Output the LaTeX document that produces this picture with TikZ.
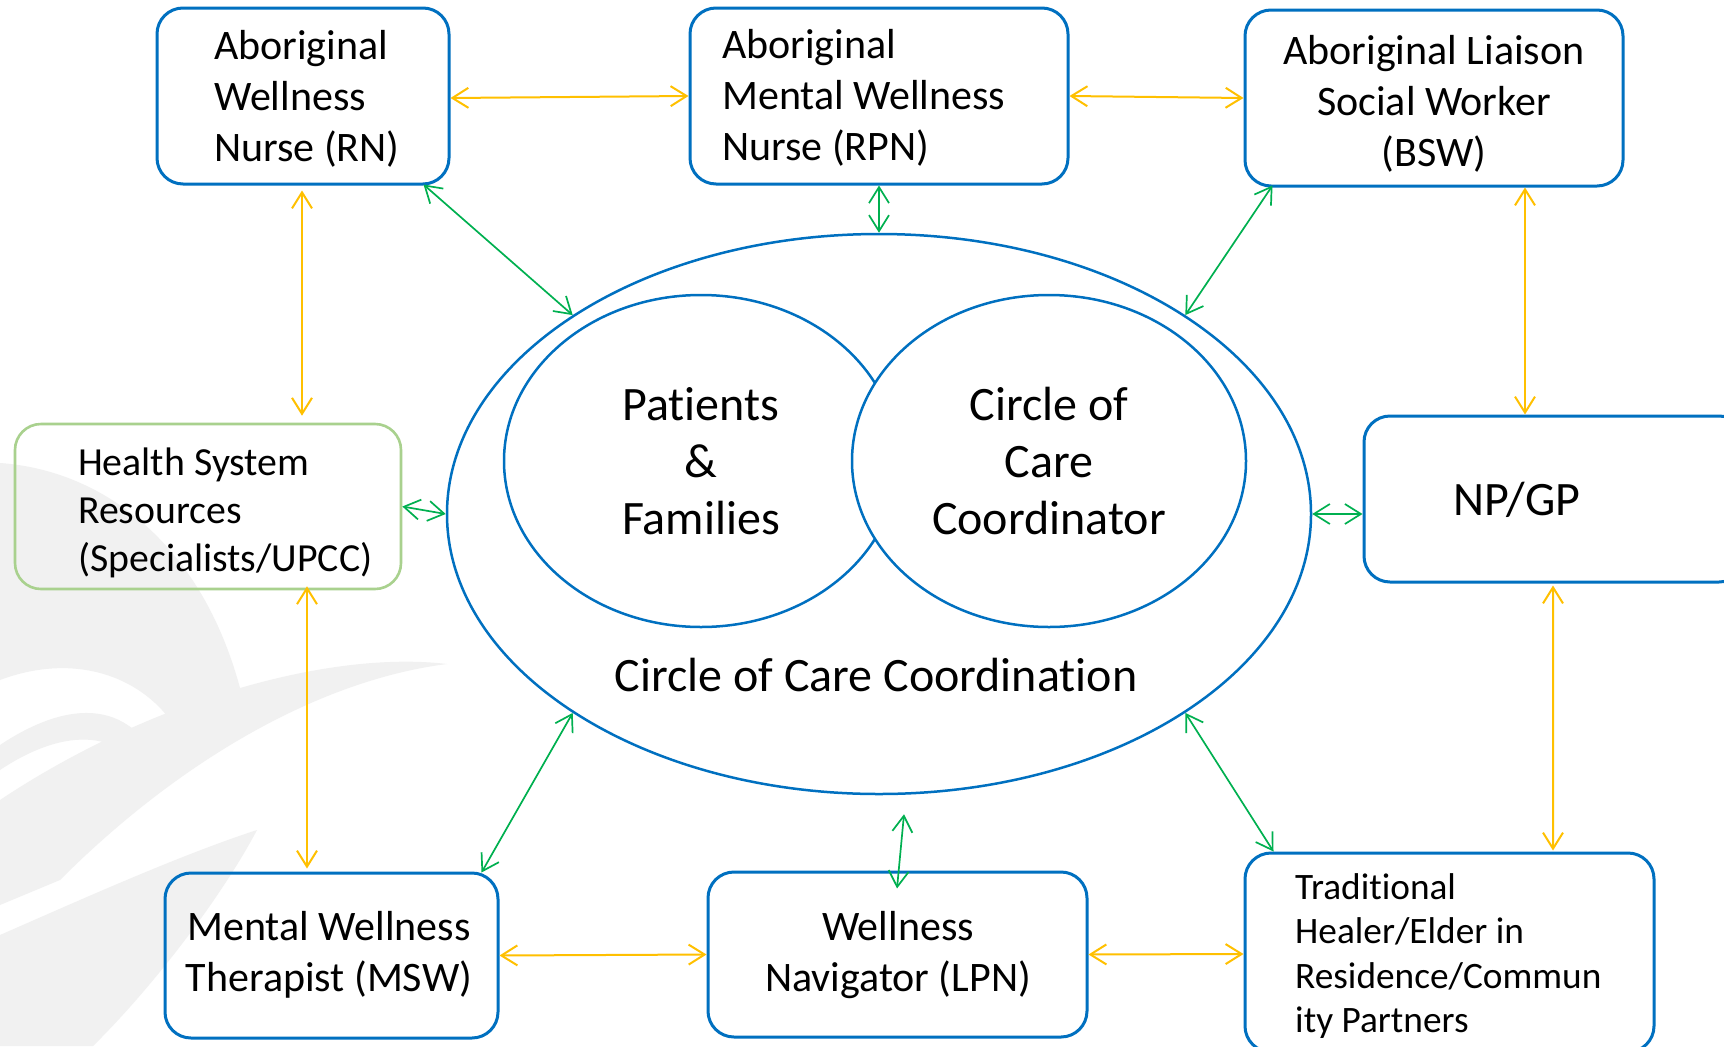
\documentclass[tikz,border=0pt]{standalone}
\usepackage{fontspec}
\setmainfont{Carlito}[Ligatures=NoCommon]
\usetikzlibrary{arrows.meta,shapes.geometric,calc}
\definecolor{boxblue}{HTML}{0070C0}
\definecolor{boxgreen}{HTML}{A9D18E}
\definecolor{arrowyellow}{HTML}{FFC000}
\definecolor{arrowgreen}{HTML}{00B050}
\definecolor{markgray}{HTML}{F1F1F1}
\newcommand\fntbox{\fontsize{42bp}{51bp}\selectfont}
\newcommand\fnthsr{\fontsize{39.8bp}{48bp}\selectfont}
\newcommand\fnttrad{\fontsize{37.3bp}{44.6bp}\selectfont}
\newcommand\fntbig{\fontsize{48bp}{57.3bp}\selectfont}
\begin{document}
\begin{tikzpicture}[x=1bp,y=-1bp,
  rbox/.style={draw=boxblue, line width=3bp, rounded corners=26bp, inner sep=0pt},
  gbox/.style={draw=boxgreen, line width=2.6bp, rounded corners=26bp, inner sep=0pt},
  oval/.style={ellipse, draw=boxblue, line width=2.5bp, inner sep=0pt, fill=white},
  txt/.style={inner sep=0pt, text=black},
  barb/.tip={Straight Barb[length=16bp,width=20bp]},
  ylink/.style={draw=arrowyellow, line width=2bp, barb-barb},
  glink/.style={draw=arrowgreen, line width=1.7bp, barb-barb}]
\clip (0,0) rectangle (1724,1046);
\fill[white] (0,0) rectangle (1724,1046);
% faint watermark
\fill[markgray] (0,463) .. controls (100,470) and (200,540) .. (240,688)
  .. controls (215,700) and (195,715) .. (180,735)
  .. controls (150,680) and (80,650) .. (0,680) -- cycle;
\fill[markgray] (0,745) .. controls (60,705) and (130,690) .. (165,775)
  -- (150,782) .. controls (120,725) and (60,730) .. (0,770) -- cycle;
\fill[markgray] (0,800) .. controls (150,700) and (330,650) .. (447,664)
  .. controls (320,680) and (180,760) .. (60,880) -- (0,905) -- cycle;
\fill[markgray] (257,830) .. controls (220,900) and (150,990) .. (93,1046)
  -- (0,1046) -- (0,935) .. controls (80,900) and (180,855) .. (257,830) -- cycle;
% ellipses
\node[oval, minimum width=864bp, minimum height=560bp] (big) at (879,514) {};
\node[oval, minimum width=394bp, minimum height=332bp] (left) at (701,461) {};
\node[oval, minimum width=394bp, minimum height=332bp] (right) at (1049,461) {};
% boxes
\node[rbox, minimum width=292bp, minimum height=176bp] (rn) at (303,96) {};
\node[rbox, minimum width=378bp, minimum height=176bp] (rpn) at (879,96) {};
\node[rbox, minimum width=378bp, minimum height=176bp] (bsw) at (1434,98) {};
\node[gbox, minimum width=386bp, minimum height=165bp] (hsr) at (208,506.5) {};
\node[rbox, minimum width=381bp, minimum height=166bp] (np) at (1554.5,499) {};
\node[rbox, minimum width=333bp, minimum height=165bp] (msw) at (331.5,955.5) {};
\node[rbox, minimum width=379bp, minimum height=165bp] (lpn) at (897.5,954.5) {};
\node[rbox, minimum width=409bp, minimum height=199bp] (trad) at (1449.5,952.5) {};
% texts
\node[txt, anchor=west, align=left, font=\fntbox] (rntext) at (214,99) {Aboriginal\\Wellness\\Nurse (RN)};
\node[txt, anchor=west, align=left, font=\fntbox] (rpntext) at (722,98) {Aboriginal\\Mental Wellness\\Nurse (RPN)};
\node[txt, align=center, font=\fntbox] (bswtext) at (1434,104) {Aboriginal Liaison\\Social Worker\\(BSW)};
\node[txt, anchor=west, align=left, font=\fnthsr] (hsrtext) at (78,513) {Health System\\Resources\\(Specialists/UPCC)};
\node[txt, font=\fntbig] (nptext) at (1517,500) {NP/GP};
\node[txt, align=center, font=\fntbox] (mswtext) at (329,955) {Mental Wellness\\Therapist (MSW)};
\node[txt, align=center, font=\fntbox] (lpntext) at (898,955) {Wellness\\Navigator (LPN)};
\node[txt, anchor=west, align=left, font=\fnttrad] (tradtext) at (1295,956) {Traditional\\Healer/Elder in\\Residence/Commun\\ity Partners};
\node[txt, align=center, font=\fntbig] (pftext) at (701,461) {Patients\\\&\\Families};
\node[txt, align=center, font=\fntbig] (cctext) at (1049,461) {Circle of\\Care\\Coordinator};
\node[txt, font=\fntbig] (cctitle) at (876,675) {Circle of Care Coordination};
% yellow connectors
\draw[ylink] ($(rn.east)+(0,2)$) -- (rpn.west);
\draw[ylink] (rpn.east) -- (bsw.west);
\draw[ylink] ($(rn.south)+(-1,5)$) -- ($(hsr.north)+(94,-7)$);
\draw[ylink] ($(hsr.south)+(99,-4)$) -- ($(msw.north)+(-24.5,-3)$);
\draw[ylink] ($(bsw.south)+(91,0)$) -- ($(np.north)+(-29.5,0)$);
\draw[ylink] ($(np.south)+(-1.5,2)$) -- ($(trad.north)+(103.5,-1)$);
\draw[ylink] (msw.east) -- (lpn.west);
\draw[ylink] (lpn.east) -- ($(trad.west)+(0,1.5)$);
% green connectors
\coordinate (lpnfree) at ($(big.south)+(25,19)$);
\draw[glink] ($(rn.south east)+(-27,-1)$) -- (big.147);
\draw[glink] (rpn.south) -- (big.north);
\draw[glink] ($(bsw.south west)+(29,-2)$) -- (big.33);
\draw[glink] (hsr.east) -- (big.west);
\draw[glink] (big.east) -- ($(np.west)+(0,15)$);
\draw[glink] (big.213) -- ($(msw.north east)+(-18,1)$);
\draw[glink] (lpnfree) -- ($(lpn.north)+(-0.5,18)$);
\draw[glink] (big.-33) -- ($(trad.north west)+(30,0)$);
\end{tikzpicture}
\end{document}
